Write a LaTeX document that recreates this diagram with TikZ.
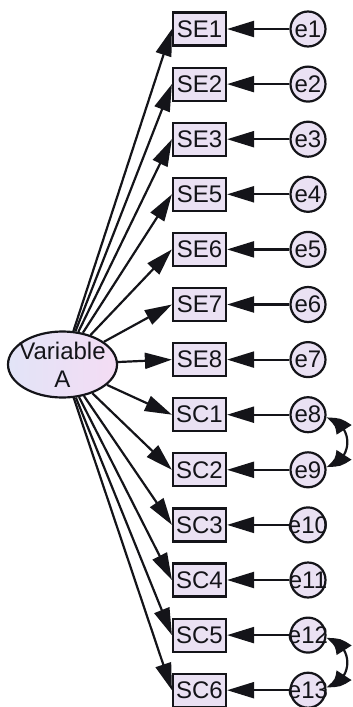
\documentclass[tikz,border=0pt]{standalone}
\usepackage{fontspec}
\setmainfont{Liberation Sans}
\usetikzlibrary{arrows.meta,shapes.geometric,bending}
\definecolor{boxfill}{RGB}{234,225,243}
\definecolor{ink}{RGB}{20,20,25}
\definecolor{latL}{RGB}{226,228,247}
\definecolor{latR}{RGB}{244,220,244}
\tikzset{
  txt/.style={font=\fontsize{24}{28}\selectfont, text=ink},
  obs/.style={txt, draw=ink, line width=2.2pt, fill=boxfill, minimum width=53pt, minimum height=33pt, inner sep=0pt},
  err/.style={txt, circle, draw=ink, line width=2.2pt, fill=boxfill, minimum size=35pt, inner sep=0pt},
  lat/.style={txt, ellipse, draw=ink, line width=2.2pt, left color=latL, right color=latR, minimum width=109pt, minimum height=66pt, inner sep=0pt, align=center},
  pth/.style={draw=ink, line width=2.2pt, -{Triangle[length=27pt,width=16pt]}},
  cov/.style={draw=ink, line width=2.2pt, {Triangle[length=24pt,width=17pt,bend]}-{Triangle[length=24pt,width=17pt,bend]}}
}
\begin{document}
\begin{tikzpicture}[x=1pt,y=-1pt]
\useasboundingbox (0,0) rectangle (353,707);
\node[lat] (var) at (62.5,364.5) {\makebox[0pt]{Variable}\\\makebox[0pt]{A}};
\foreach \lab/\er [count=\i from 0] in {SE1/e1,SE2/e2,SE3/e3,SE5/e4,SE6/e5,SE7/e6,SE8/e7,SC1/e8,SC2/e9,SC3/e10,SC4/e11,SC5/e12,SC6/e13}{
  \node[obs] (b\i) at (199.5,{29+55.1*\i}) {\lab};
  \node[err] (e\i) at (308,{29+55.1*\i}) {\makebox[0pt]{\er}};
  \draw[pth] (e\i) -- (b\i);
  \draw[pth] (var) -- (b\i.west);
}
\draw[cov] (e7) to[out=-10,in=10,looseness=1.5] (e8);
\draw[cov] (e11) to[out=-10,in=10,looseness=1.5] (e12);
\end{tikzpicture}
\end{document}
